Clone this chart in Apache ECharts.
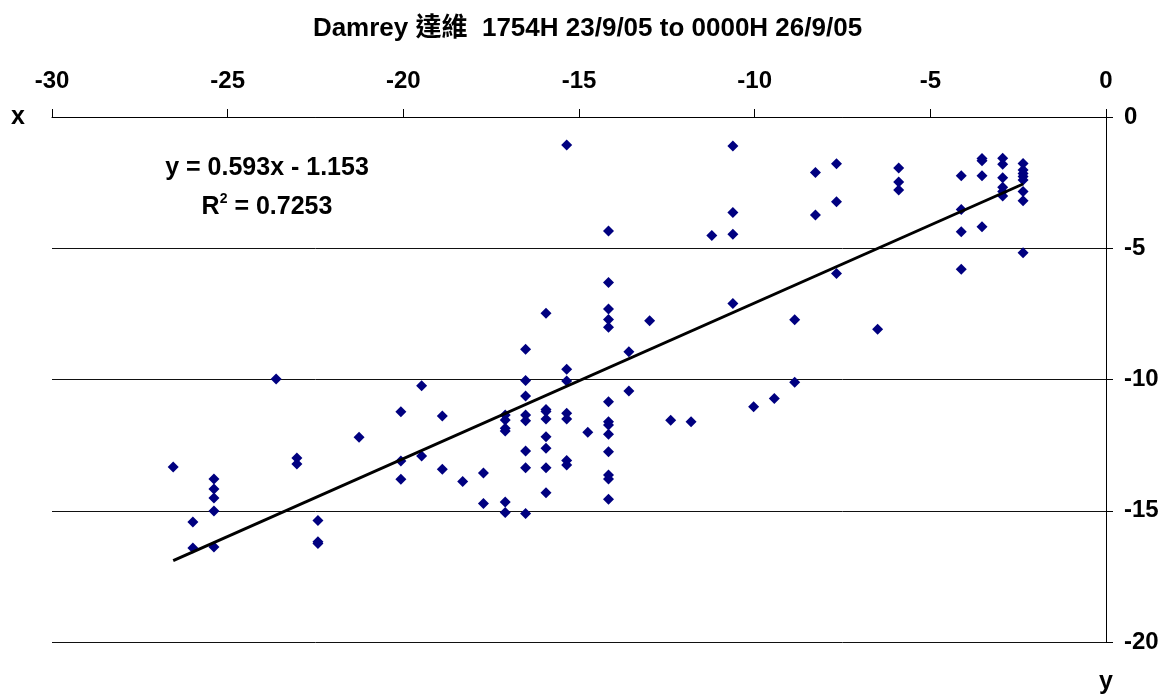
<!DOCTYPE html>
<html>
<head>
<meta charset="utf-8">
<script src="https://cdn.jsdelivr.net/npm/echarts@6/dist/echarts.min.js"></script>
<style>
html,body{margin:0;padding:0;background:#fff;}
#chart{width:1175px;height:698px;}
</style>
</head>
<body>
<div id="chart"></div>
<script>
// ---- data (x = column value, y = values observed at that x) ----
const columnX = [-26.55, -25.99, -25.39, -23.62, -23.03, -22.43, -21.26, -20.07, -19.48, -18.89,
  -18.31, -17.72, -17.10, -16.52, -15.94, -15.35, -14.75, -14.16, -13.58, -12.99,
  -12.39, -11.81, -11.22, -10.62, -10.03, -9.44, -8.86, -8.27, -7.67, -6.50,
  -5.90, -4.12, -3.53, -2.94, -2.36];
const columnY = [
  [-13.33],
  [-15.43, -16.42],
  [-13.79, -14.17, -14.51, -15.01, -16.38],
  [-9.98],
  [-12.99, -13.22],
  [-15.37, -16.18, -16.25],
  [-12.20],
  [-11.23, -13.10, -13.80],
  [-10.24, -12.91],
  [-11.39, -13.42],
  [-13.89],
  [-13.56, -14.72],
  [-11.35, -11.54, -11.86, -11.96, -14.67, -15.07],
  [-8.85, -10.04, -10.63, -11.35, -11.57, -12.72, -13.36, -15.10],
  [-7.48, -11.14, -11.22, -11.50, -12.18, -12.62, -13.36, -14.31],
  [-1.07, -9.61, -10.06, -11.29, -11.50, -13.09, -13.26],
  [-12.01],
  [-4.34, -6.30, -7.31, -7.71, -8.01, -10.85, -11.61, -11.73, -12.09, -12.75, -13.64, -13.79, -14.56],
  [-8.94, -10.44],
  [-7.76],
  [-11.55],
  [-11.61],
  [-4.51],
  [-1.10, -3.64, -4.47, -7.10],
  [-11.04],
  [-10.72],
  [-7.72, -10.10],
  [-2.11, -3.73],
  [-1.78, -3.23, -5.96],
  [-8.09],
  [-1.94, -2.48, -2.78],
  [-2.24, -3.52, -4.37, -5.80],
  [-1.58, -1.67, -2.24, -4.18],
  [-1.57, -1.80, -2.31, -2.68, -2.84, -3.01],
  [-1.77, -2.02, -2.15, -2.27, -2.40, -2.84, -3.19, -5.17]
];
const xTicks = [-30, -25, -20, -15, -10, -5, 0];
const yTicks = [0, -5, -10, -15, -20];
const trendSlope = 0.593;
const trendIntercept = -1.153;
const trendR2 = 0.7253;
const titleText = 'Damrey 達維  1754H 23/9/05 to 0000H 26/9/05';

// ---- build ----
const points = [];
columnX.forEach((x, i) => columnY[i].forEach(y => points.push([x, y])));
const xMin = Math.min(...columnX), xMax = Math.max(...columnX);
const trend = [[xMin, trendSlope * xMin + trendIntercept], [xMax, trendSlope * xMax + trendIntercept]];
const eqText = 'y = ' + trendSlope + 'x - ' + Math.abs(trendIntercept);

const FONT = "'Liberation Sans', Arial, 'Noto Sans CJK TC', sans-serif";
const chart = echarts.init(document.getElementById('chart'), null, {renderer: 'canvas'});
chart.setOption({
  animation: false,
  backgroundColor: '#ffffff',
  title: {
    text: titleText,
    left: 'center',
    top: 11,
    textStyle: {fontFamily: FONT, fontWeight: 'bold', fontSize: 26, color: '#000'}
  },
  grid: {left: 52, right: 69, top: 117, bottom: 56, containLabel: false},
  xAxis: {
    type: 'value', position: 'top', min: xTicks[0], max: xTicks[xTicks.length - 1], interval: 5,
    name: 'x', nameLocation: 'start', nameGap: 27,
    nameTextStyle: {fontFamily: FONT, fontWeight: 'bold', fontSize: 25, color: '#000'},
    axisLine: {show: true, lineStyle: {color: '#000', width: 1}},
    axisTick: {show: true, inside: false, length: 8, lineStyle: {color: '#000'}},
    axisLabel: {fontFamily: FONT, fontWeight: 'bold', fontSize: 24, color: '#000', margin: 24},
    splitLine: {show: false}
  },
  yAxis: {
    type: 'value', position: 'right', min: yTicks[yTicks.length - 1], max: yTicks[0], interval: 5,
    name: 'y', nameLocation: 'start', nameGap: 28,
    nameTextStyle: {fontFamily: FONT, fontWeight: 'bold', fontSize: 25, color: '#000'},
    axisLine: {show: true, lineStyle: {color: '#000', width: 1}},
    axisTick: {show: true, inside: false, length: 7, lineStyle: {color: '#000'}},
    axisLabel: {fontFamily: FONT, fontWeight: 'bold', fontSize: 24, color: '#000', margin: 18},
    splitLine: {show: true, lineStyle: {color: '#111', width: 1}}
  },
  graphic: [
    {type: 'text', x: 267, y: 168, style: {text: eqText, font: "bold 25px " + FONT, fill: '#000', textAlign: 'center', textVerticalAlign: 'middle'}},
    {type: 'text', x: 267, y: 206, style: {
      text: '{b|R}{s|2}{b| = ' + trendR2 + '}',
      textAlign: 'center', textVerticalAlign: 'middle',
      rich: {
        b: {font: "bold 25px " + FONT, fill: '#000', verticalAlign: 'bottom', lineHeight: 28},
        s: {font: "bold 14px " + FONT, fill: '#000', verticalAlign: 'top', lineHeight: 28, padding: [0, 0, 12, 0]}
      }
    }}
  ],
  series: [
    {
      type: 'scatter', data: points, symbol: 'diamond', symbolSize: 11,
      itemStyle: {color: '#000080', opacity: 1}, z: 3
    },
    {
      type: 'line', data: trend, symbol: 'none', lineStyle: {color: '#000', width: 3}, z: 4
    }
  ]
});
</script>
</body>
</html>
